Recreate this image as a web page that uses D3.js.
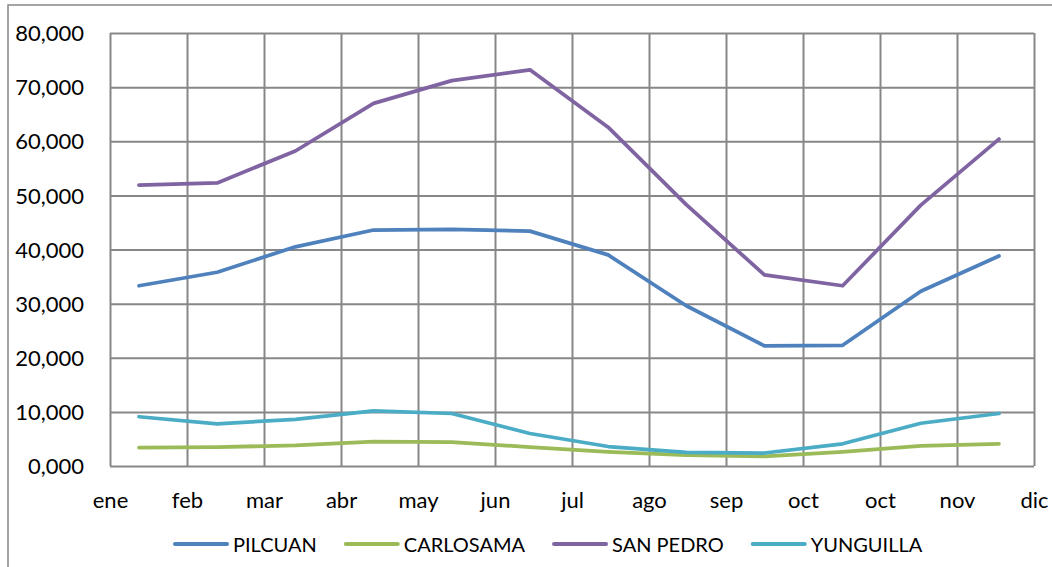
<!DOCTYPE html>
<html>
<head>
<meta charset="utf-8">
<script src="https://cdn.jsdelivr.net/npm/d3@7"></script>
<style>
  html, body { margin: 0; padding: 0; background: #fff; }
  svg { display: block; }
  text { font-family: Lato, "Open Sans", sans-serif; fill: #000; }
</style>
</head>
<body>
<svg id="chart" width="1052" height="567"></svg>
<script>
// Monthly series (thousands), one value per month
const months = ["ene", "feb", "mar", "abr", "may", "jun", "jul", "ago", "sep", "oct", "nov", "dic"];
const xTickLabels = ["ene", "feb", "mar", "abr", "may", "jun", "jul", "ago", "sep", "oct", "oct", "nov", "dic"];
const yTicks = [0, 10, 20, 30, 40, 50, 60, 70, 80];

const seriesNames = ["PILCUAN", "CARLOSAMA", "SAN PEDRO", "YUNGUILLA"];
const seriesColors = ["#4f81bd", "#9bbb59", "#8064a2", "#4bacc6"];

const pilcuan   = [33.3, 35.8, 40.5, 43.6, 43.7, 43.4, 39.0, 29.6, 22.2, 22.3, 32.3, 38.8];
const carlosama = [3.4, 3.5, 3.8, 4.5, 4.4, 3.5, 2.6, 2.0, 1.8, 2.6, 3.7, 4.1];
const sanPedro  = [51.9, 52.3, 58.2, 67.0, 71.2, 73.2, 62.6, 48.3, 35.3, 33.3, 48.2, 60.4];
const yunguilla = [9.1, 7.8, 8.6, 10.2, 9.7, 6.0, 3.6, 2.5, 2.4, 4.1, 7.9, 9.7];

const seriesValues = [pilcuan, carlosama, sanPedro, yunguilla];

const svg = d3.select("#chart");
const W = 1052, H = 567;
const plot = { left: 110, right: 1034, top: 33, bottom: 466 };
const gridColor = "#878787";
const fontSize = 22;

svg.append("rect").attr("width", W).attr("height", H).attr("fill", "#fff");

// Outer chart frame (runs off the right and bottom edges)
svg.append("path")
  .attr("d", `M8,${H + 5} L8,5 L${W + 5},5`)
  .attr("fill", "none")
  .attr("stroke", gridColor)
  .attr("stroke-width", 1.5);

// Scales
const y = d3.scaleLinear().domain([0, 80]).range([plot.bottom, plot.top]);
const xGrid = d3.scaleLinear().domain([0, xTickLabels.length - 1]).range([plot.left, plot.right]);
const x = d3.scalePoint().domain(months).range([139, 999]);

// Spanish number format: comma decimal, three decimals
const es = d3.formatLocale({ decimal: ",", thousands: ".", grouping: [3], currency: ["", " €"] });
const fmt = es.format(".3f");

// Horizontal gridlines + value labels
const yAxis = svg.append("g")
  .attr("transform", `translate(${plot.left},0)`)
  .call(d3.axisLeft(y)
    .tickValues(yTicks)
    .tickSize(-(plot.right - plot.left))
    .tickPadding(26)
    .tickFormat(fmt));
yAxis.select(".domain").remove();
yAxis.selectAll(".tick line").attr("stroke", gridColor).attr("stroke-width", 2);
yAxis.selectAll(".tick text")
  .attr("font-size", fontSize)
  .attr("font-family", "Lato, sans-serif")
  .attr("fill", "#000")
  .attr("dy", "0.35em");

// Vertical gridlines + month labels on the boundaries
const xAxis = svg.append("g")
  .attr("transform", `translate(0,${plot.bottom})`)
  .call(d3.axisBottom(xGrid)
    .tickValues(d3.range(xTickLabels.length))
    .tickSize(-(plot.bottom - plot.top))
    .tickPadding(26)
    .tickFormat(i => xTickLabels[i]));
xAxis.select(".domain").remove();
xAxis.selectAll(".tick line").attr("stroke", gridColor).attr("stroke-width", 2);
xAxis.selectAll(".tick text")
  .attr("font-size", fontSize)
  .attr("font-family", "Lato, sans-serif")
  .attr("fill", "#000");

// Series lines
const line = d3.line()
  .x((d, i) => x(months[i]))
  .y(d => y(d));

svg.append("g")
  .selectAll("path")
  .data(seriesValues)
  .join("path")
  .attr("d", line)
  .attr("fill", "none")
  .attr("stroke", (d, i) => seriesColors[i])
  .attr("stroke-width", 3.75)
  .attr("stroke-linejoin", "round")
  .attr("stroke-linecap", "round");

// Legend, centred below the axis
const legend = svg.append("g");
const items = legend.selectAll("g")
  .data(seriesNames)
  .join("g");
items.append("line")
  .attr("x1", 0).attr("x2", 52)
  .attr("y1", 544).attr("y2", 544)
  .attr("stroke", (d, i) => seriesColors[i])
  .attr("stroke-width", 4)
  .attr("stroke-linecap", "round");
items.append("text")
  .attr("x", 58)
  .attr("y", 552)
  .attr("font-size", 20)
  .text(d => d);

let cursor = 0;
items.each(function () {
  const w = d3.select(this).select("text").node().getComputedTextLength();
  d3.select(this).attr("transform", `translate(${cursor},0)`);
  cursor += 58 + w + 29;
});
const legendWidth = cursor - 29;
legend.attr("transform", `translate(${Math.round(548.5 - legendWidth / 2)},0)`);
</script>
</body>
</html>
